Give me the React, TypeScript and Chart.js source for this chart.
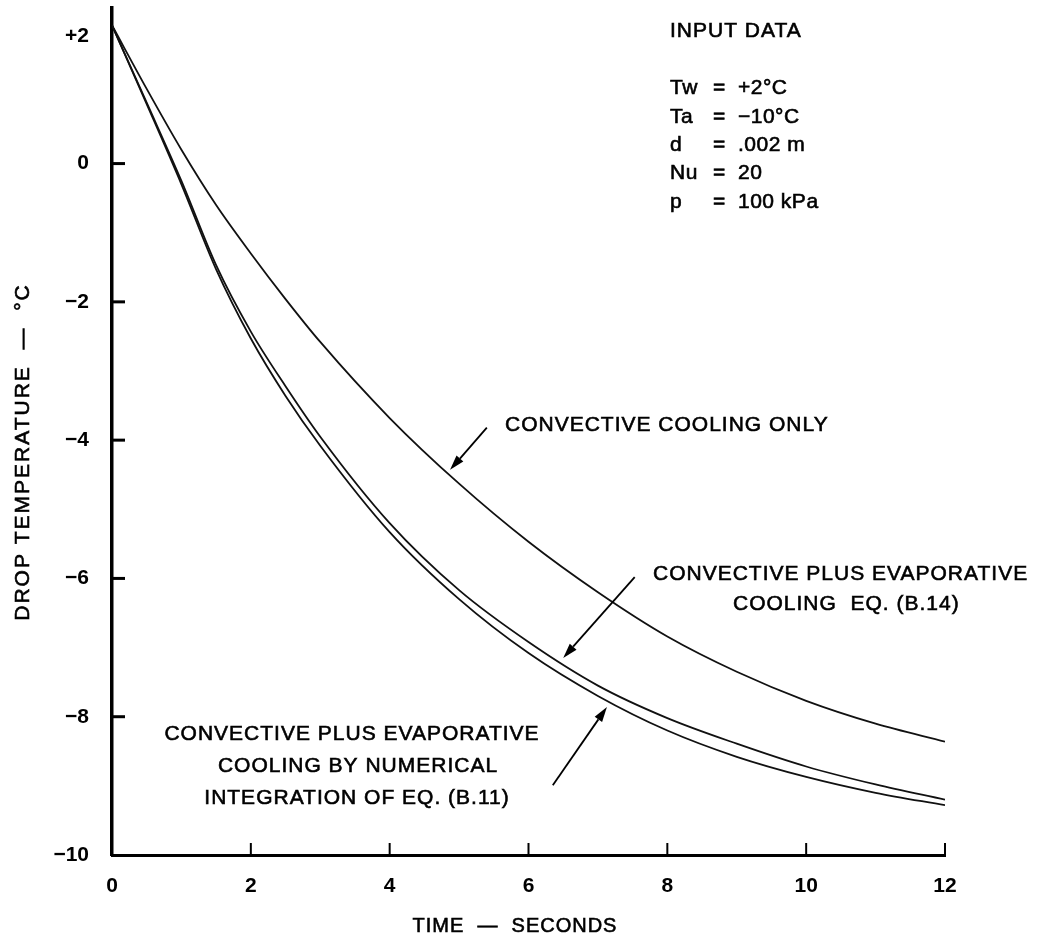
import React, { useEffect, useRef } from "react";
import { Chart, registerables } from "chart.js";

Chart.register(...registerables);

// ---- data ----
const timeSeconds = [0, 0.5, 1, 1.5, 2, 2.5, 3, 4, 5, 6, 7, 8, 9, 10, 11, 12];
const convectiveOnly = [2.0, 1.08, 0.2, -0.6, -1.3, -1.96, -2.58, -3.68, -4.63, -5.47, -6.2, -6.84, -7.35, -7.77, -8.1, -8.36];
const evaporativeEqB14 = [2.0, 0.88, -0.25, -1.47, -2.43, -3.22, -3.95, -5.2, -6.17, -6.92, -7.55, -8.02, -8.39, -8.72, -8.98, -9.2];
const evaporativeNumerical = [2.0, 0.86, -0.3, -1.53, -2.53, -3.36, -4.08, -5.33, -6.3, -7.08, -7.7, -8.2, -8.58, -8.87, -9.1, -9.28];

const xTickValues = [0, 2, 4, 6, 8, 10, 12];
const xTickLabels = ["0", "2", "4", "6", "8", "10", "12"];
const yTickValues = [2, 0, -2, -4, -6, -8, -10];
const yTickLabels = ["+2", "0", "\u22122", "\u22124", "\u22126", "\u22128", "\u221210"];

const inputDataLabels = ["Tw", "Ta", "d", "Nu", "p"];
const inputDataValues = ["+2\u00b0C", "\u221210\u00b0C", ".002 m", "20", "100 kPa"];

// arrows in data coordinates: [tailT, tailV, tipT, tipV]
const arrowConvective = [5.4, -3.82, 4.87, -4.43];
const arrowEqB14 = [7.53, -5.98, 6.5, -7.15];
const arrowNumerical = [6.35, -8.99, 7.13, -7.86];

const FONT = '"Liberation Sans", Arial, sans-serif';

function toPoints(ys: number[]) {
  return timeSeconds.map((t, i) => ({ x: t, y: ys[i] }));
}

const overlayPlugin = {
  id: "overlay",
  afterDraw(chart: any) {
    const ctx = chart.ctx as CanvasRenderingContext2D;
    const xs = chart.scales.x;
    const ys = chart.scales.y;
    const area = chart.chartArea;
    ctx.save();
    ctx.strokeStyle = "#000";
    ctx.fillStyle = "#000";

    // inward tick marks on y axis
    ctx.lineWidth = 3;
    for (const v of yTickValues) {
      if (v === 2 || v === -10) continue;
      const py = ys.getPixelForValue(v);
      ctx.beginPath();
      ctx.moveTo(area.left, py);
      ctx.lineTo(area.left + 13, py);
      ctx.stroke();
    }
    // inward tick marks on x axis
    ctx.lineWidth = 2;
    for (const v of xTickValues) {
      if (v === 0) continue;
      const px = xs.getPixelForValue(v);
      ctx.beginPath();
      ctx.moveTo(px, area.bottom);
      ctx.lineTo(px, area.bottom - 12);
      ctx.stroke();
    }

    // the "+2" label sits a little below its value in the original
    ctx.font = `bold 21px ${FONT}`;
    ctx.textAlign = "right";
    ctx.textBaseline = "middle";
    ctx.fillText(yTickLabels[0], area.left - 23, ys.getPixelForValue(yTickValues[0]) + 11);

    // arrows
    const drawArrow = (a: number[]) => {
      const x1 = xs.getPixelForValue(a[0]);
      const y1 = ys.getPixelForValue(a[1]);
      const x2 = xs.getPixelForValue(a[2]);
      const y2 = ys.getPixelForValue(a[3]);
      const ang = Math.atan2(y2 - y1, x2 - x1);
      const len = 15;
      const half = 4.5;
      const bx = x2 - len * Math.cos(ang);
      const by = y2 - len * Math.sin(ang);
      ctx.lineWidth = 1.8;
      ctx.beginPath();
      ctx.moveTo(x1, y1);
      ctx.lineTo(bx, by);
      ctx.stroke();
      ctx.beginPath();
      ctx.moveTo(x2, y2);
      ctx.lineTo(bx + half * Math.sin(ang), by - half * Math.cos(ang));
      ctx.lineTo(bx - half * Math.sin(ang), by + half * Math.cos(ang));
      ctx.closePath();
      ctx.fill();
    };
    drawArrow(arrowConvective);
    drawArrow(arrowEqB14);
    drawArrow(arrowNumerical);

    // texts (slightly heavier than regular, like the original lettering)
    const txt = (s: string, x: number, y: number, align: CanvasTextAlign = "left", size = 21, spacing = 1) => {
      ctx.font = `${size}px ${FONT}`;
      (ctx as any).letterSpacing = `${spacing}px`;
      ctx.textAlign = align;
      ctx.textBaseline = "middle";
      ctx.lineWidth = 0.6;
      ctx.fillText(s, x, y);
      ctx.strokeText(s, x, y);
    };

    txt("INPUT DATA", 670, 31);
    const rowY = [88, 117, 145, 173, 202];
    inputDataLabels.forEach((l, i) => {
      txt(l, 670, rowY[i], "left", 21, 0.5);
      txt("=", 713, rowY[i], "left", 21, 0);
      txt(inputDataValues[i], 738, rowY[i], "left", 21, 0.5);
    });

    txt("CONVECTIVE COOLING ONLY", 505, 425);
    txt("CONVECTIVE PLUS EVAPORATIVE", 653, 574);
    txt("COOLING  EQ. (B.14)", 733, 604);
    txt("CONVECTIVE PLUS EVAPORATIVE", 352, 734, "center");
    txt("COOLING BY NUMERICAL", 358, 766, "center");
    txt("INTEGRATION OF EQ. (B.11)", 357, 798, "center");

    // axis titles
    txt("TIME  \u2014  SECONDS", 515, 926, "center", 20, 1);
    ctx.save();
    ctx.translate(23, 452);
    ctx.rotate(-Math.PI / 2);
    txt("DROP TEMPERATURE  \u2014  \u00b0C", 0, 0, "center", 21, 2);
    ctx.restore();

    ctx.restore();
  },
};

export default function App() {
  const canvasRef = useRef<HTMLCanvasElement | null>(null);

  useEffect(() => {
    document.body.style.margin = "0";
    const canvas = canvasRef.current;
    if (!canvas) return;
    const lineStyle = {
      borderColor: "#111",
      borderWidth: 1.8,
      pointRadius: 0,
      fill: false,
      cubicInterpolationMode: "monotone" as const,
    };
    const chart = new Chart(canvas, {
      type: "line",
      data: {
        datasets: [
          { label: "Convective cooling only", data: toPoints(convectiveOnly), ...lineStyle },
          { label: "Convective plus evaporative, Eq. (B.14)", data: toPoints(evaporativeEqB14), ...lineStyle },
          { label: "Convective plus evaporative, numerical Eq. (B.11)", data: toPoints(evaporativeNumerical), ...lineStyle },
        ],
      },
      options: {
        responsive: false,
        animation: false,
        devicePixelRatio: 1,
        layout: { padding: { left: 0, top: 8, right: 94, bottom: 0 } },
        plugins: { legend: { display: false }, tooltip: { enabled: false } },
        scales: {
          x: {
            type: "linear",
            min: 0,
            max: 12,
            grid: { display: false, drawTicks: false },
            border: { display: true, width: 3, color: "#000" },
            afterBuildTicks: (s: any) => {
              s.ticks = xTickValues.map((v) => ({ value: v }));
            },
            afterFit: (s: any) => {
              s.height = 92;
              s.paddingLeft = 0;
              s.paddingRight = 0;
            },
            ticks: {
              padding: 19,
              color: "#000",
              font: { family: FONT, size: 21, weight: "bold" },
              maxRotation: 0,
              autoSkip: false,
              callback: (v: any) => {
                const i = xTickValues.indexOf(Number(v));
                return i >= 0 ? xTickLabels[i] : "";
              },
            },
          },
          y: {
            type: "linear",
            min: -10,
            max: 2.25,
            grid: { display: false, drawTicks: false },
            border: { display: true, width: 3.5, color: "#000" },
            afterBuildTicks: (s: any) => {
              s.ticks = yTickValues.map((v) => ({ value: v }));
            },
            afterFit: (s: any) => {
              s.width = 112;
              s.paddingTop = 0;
              s.paddingBottom = 0;
            },
            ticks: {
              padding: 23,
              color: "#000",
              font: { family: FONT, size: 21, weight: "bold" },
              autoSkip: false,
              callback: (v: any) => {
                const n = Number(v);
                if (n === yTickValues[0]) return "";
                const i = yTickValues.indexOf(n);
                return i >= 0 ? yTickLabels[i] : "";
              },
            },
          },
        },
      },
      plugins: [overlayPlugin],
    });
    return () => chart.destroy();
  }, []);

  return (
    <div style={{ width: 1039, height: 947, background: "#fff" }}>
      <canvas ref={canvasRef} width={1039} height={947} style={{ display: "block" }} />
    </div>
  );
}
